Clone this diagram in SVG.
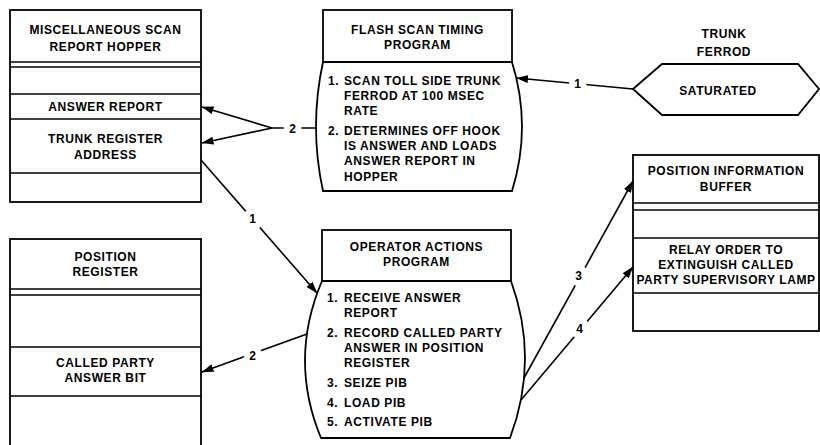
<svg xmlns="http://www.w3.org/2000/svg" width="820" height="445" viewBox="0 0 820 445">
<defs>
<marker id="ah" markerUnits="userSpaceOnUse" markerWidth="12" markerHeight="8" refX="11.5" refY="4" orient="auto"><path d="M0,0 L12,4 L0,8 z" fill="#000"/></marker>
</defs>
<style>
.box{fill:#fff;stroke:#000;stroke-width:1.8}
.ln{stroke:#000;stroke-width:1.6;fill:none}
text{font-family:"Liberation Sans",Arial,sans-serif;font-weight:bold;font-size:12px;letter-spacing:0.6px;fill:#000}
.c{text-anchor:middle}
.lbl{text-anchor:middle;stroke:#fff;stroke-width:12px;paint-order:stroke;stroke-linejoin:round}
.conn{stroke:#000;stroke-width:1.6;fill:none}
.arr{marker-end:url(#ah)}
</style>
<rect width="820" height="445" fill="#fff"/>

<g id="misc-scan-report-hopper">
<rect class="box" x="10" y="10" width="191" height="192"/>
<line class="ln" x1="10" y1="62" x2="201" y2="62"/>
<line class="ln" x1="10" y1="67" x2="201" y2="67"/>
<line class="ln" x1="10" y1="94" x2="201" y2="94"/>
<line class="ln" x1="10" y1="119" x2="201" y2="119"/>
<line class="ln" x1="10" y1="173" x2="201" y2="173"/>
<text class="c" x="105.5" y="34">MISCELLANEOUS SCAN</text>
<text class="c" x="105.5" y="50.5">REPORT HOPPER</text>
<text class="c" x="105.5" y="111">ANSWER REPORT</text>
<text class="c" x="105.5" y="142.5">TRUNK REGISTER</text>
<text class="c" x="105.5" y="158.5">ADDRESS</text>
</g>

<g id="flash-scan-timing-program">
<rect class="box" x="323" y="10" width="189" height="52"/>
<path class="box" d="M323,62 L512,62 Q532,126.5 512,191 L323,191 Q309,126.5 323,62 Z"/>
<text class="c" x="417.5" y="33.5">FLASH SCAN TIMING</text>
<text class="c" x="417.5" y="49">PROGRAM</text>
<text x="328" y="85">1.</text>
<text x="344" y="85">SCAN TOLL SIDE TRUNK</text>
<text x="344" y="100">FERROD AT 100 MSEC</text>
<text x="344" y="115">RATE</text>
<text x="328" y="135">2.</text>
<text x="344" y="135">DETERMINES OFF HOOK</text>
<text x="344" y="150">IS ANSWER AND LOADS</text>
<text x="344" y="165">ANSWER REPORT IN</text>
<text x="344" y="180.5">HOPPER</text>
</g>

<g id="trunk-ferrod">
<text class="c" x="724" y="38">TRUNK</text>
<text class="c" x="724" y="56">FERROD</text>
<polygon class="box" points="633,89 662,64 798,64 819,89 798,115 662,115"/>
<text class="c" x="718" y="95">SATURATED</text>
</g>

<g id="position-information-buffer">
<rect class="box" x="633" y="155" width="186" height="176"/>
<line class="ln" x1="633" y1="203" x2="819" y2="203"/>
<line class="ln" x1="633" y1="210" x2="819" y2="210"/>
<line class="ln" x1="633" y1="238" x2="819" y2="238"/>
<line class="ln" x1="633" y1="293" x2="819" y2="293"/>
<text class="c" x="726" y="175">POSITION INFORMATION</text>
<text class="c" x="726" y="190.5">BUFFER</text>
<text class="c" x="726" y="254">RELAY ORDER TO</text>
<text class="c" x="726" y="269">EXTINGUISH CALLED</text>
<text class="c" x="726" y="284">PARTY SUPERVISORY LAMP</text>
</g>

<g id="operator-actions-program">
<rect class="box" x="322" y="230" width="189" height="51"/>
<path class="box" d="M322,281 L511,281 Q539.5,359.5 510,438 L321,438 Q288.5,359.5 322,281 Z"/>
<text class="c" x="416.5" y="251">OPERATOR ACTIONS</text>
<text class="c" x="416.5" y="266">PROGRAM</text>
<text x="327" y="301.5">1.</text>
<text x="344" y="301.5">RECEIVE ANSWER</text>
<text x="344" y="317">REPORT</text>
<text x="327" y="336.5">2.</text>
<text x="344" y="336.5">RECORD CALLED PARTY</text>
<text x="344" y="351.5">ANSWER IN POSITION</text>
<text x="344" y="366.5">REGISTER</text>
<text x="327" y="386.5">3.</text>
<text x="344" y="386.5">SEIZE PIB</text>
<text x="327" y="406.5">4.</text>
<text x="344" y="406.5">LOAD PIB</text>
<text x="327" y="426">5.</text>
<text x="344" y="426">ACTIVATE PIB</text>
</g>

<g id="position-register">
<rect class="box" x="10" y="239" width="191" height="215"/>
<line class="ln" x1="10" y1="289" x2="201" y2="289"/>
<line class="ln" x1="10" y1="295" x2="201" y2="295"/>
<line class="ln" x1="10" y1="347" x2="201" y2="347"/>
<line class="ln" x1="10" y1="396" x2="201" y2="396"/>
<text class="c" x="105.5" y="261">POSITION</text>
<text class="c" x="105.5" y="276">REGISTER</text>
<text class="c" x="105.5" y="367">CALLED PARTY</text>
<text class="c" x="105.5" y="382">ANSWER BIT</text>
</g>

<g id="connectors">
<line class="conn arr" x1="633" y1="89" x2="516.5" y2="78"/>
<line class="conn" x1="316" y1="128" x2="272" y2="128"/>
<line class="conn arr" x1="272" y1="128" x2="202" y2="107"/>
<line class="conn arr" x1="272" y1="128" x2="202" y2="143"/>
<line class="conn arr" x1="201" y1="160" x2="317" y2="293"/>
<line class="conn arr" x1="307" y1="334" x2="202" y2="372"/>
<line class="conn arr" x1="524" y1="378" x2="633" y2="181"/>
<line class="conn arr" x1="521" y1="400" x2="633" y2="267"/>
<text class="lbl" x="578" y="87.5">1</text>
<text class="lbl" x="293" y="132.5">2</text>
<text class="lbl" x="253" y="223">1</text>
<text class="lbl" x="253" y="359.5">2</text>
<text class="lbl" x="579" y="279.5">3</text>
<text class="lbl" x="580" y="332.5">4</text>
</g>
</svg>
